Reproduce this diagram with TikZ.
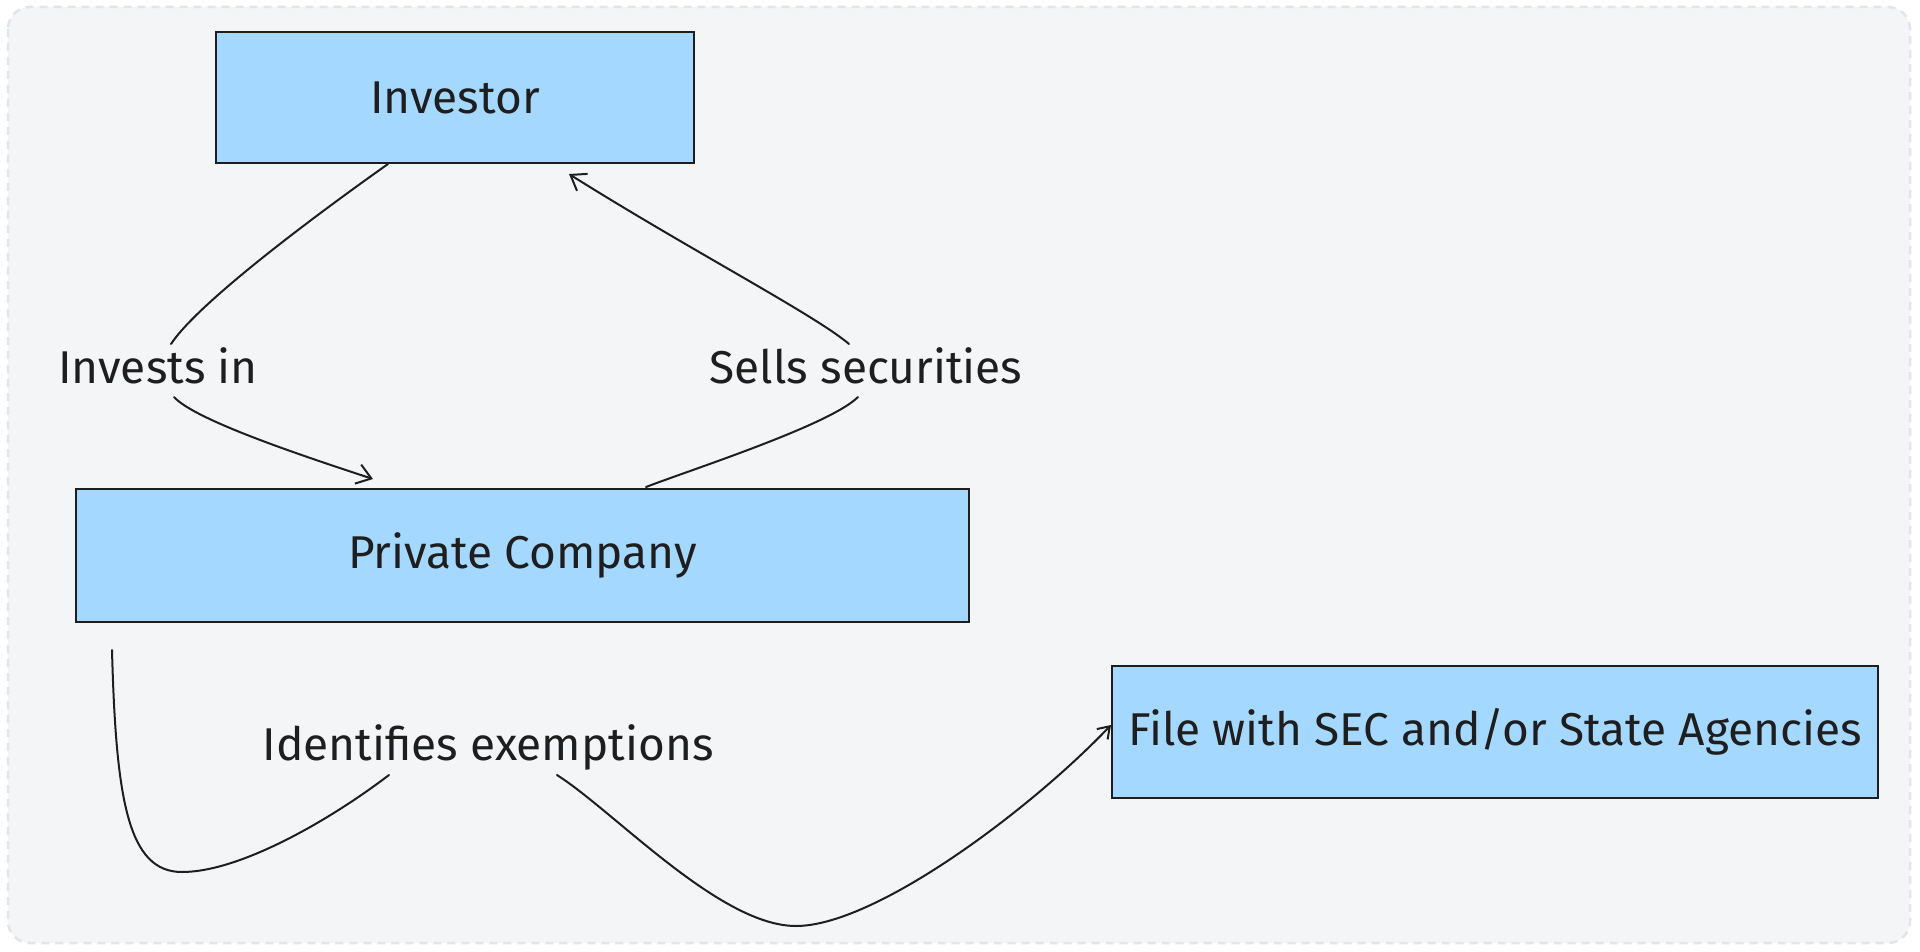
\documentclass[tikz,border=0pt]{standalone}
\usepackage{fontspec}
\setmainfont{Fira Sans}
\usetikzlibrary{arrows.meta}
\definecolor{bgfill}{HTML}{F4F5F7}
\definecolor{bgline}{HTML}{E3E5E9}
\definecolor{boxfill}{HTML}{A5D8FF}
\definecolor{ink}{HTML}{1E1E1E}
\begin{document}
\begin{tikzpicture}[x=1pt,y=-1pt,
  box/.style={draw=ink, line width=2pt, fill=boxfill, inner sep=0pt, text=ink, font=\fontsize{46}{54}\selectfont},
  lbl/.style={text=ink, inner sep=0pt, font=\fontsize{46}{54}\selectfont},
  conn/.style={draw=ink, line width=2pt, line cap=round},
  tip/.style={-{Straight Barb[length=14pt,width=20pt,line width=2pt]}},
  tipsmall/.style={-{Straight Barb[length=11pt,width=15pt,line width=2pt]}}
]
\useasboundingbox (0,0) rectangle (1920,952);
\fill[white] (0,0) rectangle (1920,952);
\draw[bgline, fill=bgfill, line width=2.5pt, dash pattern=on 8pt off 6pt, rounded corners=22pt] (8,7) rectangle (1910,943);

\node[box, minimum width=478pt, minimum height=131pt] (inv) at (455,97.5) {Investor};
\node[box, minimum width=893pt, minimum height=133pt] (priv) at (522.5,555.5) {Private Company};
\node[box, minimum width=766pt, minimum height=132pt] (file) at (1495,732) {File with SEC and/or State Agencies};

\node[lbl, anchor=base] (lab1) at (158,383) {Invests in};
\node[lbl, anchor=base] (lab2) at (866,383) {Sells securities};
\node[lbl, anchor=base] (lab3) at (488,760) {Identifies exemptions};

\draw[conn] ([xshift=-67pt]inv.south) .. controls (330,205) and (200,300) .. ([shift={(13pt,39pt)}]lab1.base);
\draw[conn,tip] ([shift={(16pt,-14pt)}]lab1.base) .. controls (195,420) and (300,455) .. ([shift={(-149.5pt,9pt)}]priv.north);

\draw[conn] ([xshift=123.5pt,yshift=1pt]priv.north) .. controls (690,470) and (830,425) .. ([shift={(-8pt,-14pt)}]lab2.base);
\draw[conn,tip] ([shift={(-17pt,39pt)}]lab2.base) .. controls (815,315) and (690,250) .. ([shift={(114pt,-10pt)}]inv.south);

\draw[conn] ([shift={(-410.5pt,-27pt)}]priv.south) .. controls (116,800) and (128,872) .. (182,872) .. controls (240,872) and (330,820) .. ([shift={(-99pt,-15pt)}]lab3.base);
\draw[conn,tipsmall] ([shift={(69pt,-15pt)}]lab3.base) .. controls (615,812) and (720,926) .. (796,926) .. controls (875,926) and (1030,810) .. ([yshift=7pt]file.west);
\end{tikzpicture}
\end{document}
